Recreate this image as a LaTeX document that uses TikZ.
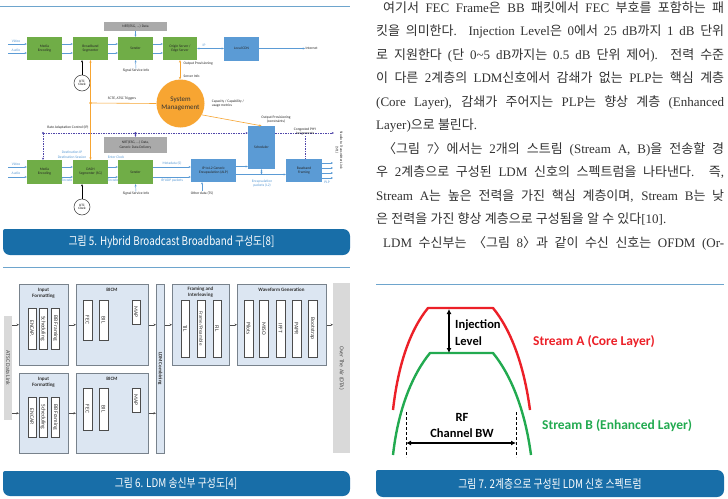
\documentclass[tikz,border=0pt]{standalone}
\usepackage{fontspec}
\setmainfont{Liberation Serif}
\newfontfamily\krfont{Noto Sans CJK KR}
\newfontfamily\lafont{Liberation Serif}
\newfontfamily\capfont[FakeStretch=0.82]{Noto Sans CJK KR}
\newfontfamily\calfont{Carlito}
\usetikzlibrary{arrows.meta}
\chardef\KRclass=11
\XeTeXcharclass"3008=\KRclass
\XeTeXcharclass"3009=\KRclass
\count255="AC00
\loop
  \XeTeXcharclass\count255=\KRclass
  \ifnum\count255<"D7A3 \advance\count255 by 1
\repeat
\XeTeXinterchartoks 0 \KRclass = {\krfont}
\XeTeXinterchartoks 1 \KRclass = {\krfont}
\XeTeXinterchartoks 2 \KRclass = {\krfont}
\XeTeXinterchartoks 3 \KRclass = {\krfont}
\XeTeXinterchartoks 4095 \KRclass = {\krfont}
\XeTeXinterchartoks \KRclass 0 = {\lafont}
\XeTeXinterchartoks \KRclass 1 = {\lafont}
\XeTeXinterchartoks \KRclass 2 = {\lafont}
\XeTeXinterchartoks \KRclass 3 = {\lafont}
\XeTeXinterchartoks \KRclass 4095 = {\lafont}
\definecolor{capblue}{RGB}{24,110,168}
\definecolor{sepblue}{RGB}{110,165,205}
\definecolor{gfill}{RGB}{112,173,71}
\definecolor{bfill}{RGB}{91,155,213}
\definecolor{grfill}{RGB}{170,170,170}
\definecolor{arblue}{RGB}{91,155,213}
\definecolor{smorange}{RGB}{247,165,50}
\definecolor{pcol}{RGB}{80,70,170}
\definecolor{sixfill}{RGB}{220,230,242}
\definecolor{sixborder}{RGB}{120,130,140}
\definecolor{sixgray}{RGB}{217,217,217}
\definecolor{redseven}{RGB}{236,32,40}
\definecolor{greenseven}{RGB}{34,170,80}
\definecolor{bodytext}{RGB}{50,50,50}
\tikzset{
  f5/.style={font=\calfont\fontsize{3.6}{4.1}\selectfont, text=black!85, align=center, inner sep=0.5pt},
  f5b/.style={f5, text=arblue},
  gb/.style={f5, fill=gfill, minimum width=35pt, minimum height=23pt},
  bb/.style={f5, fill=bfill},
  gy/.style={f5, fill=grfill},
  bar/.style={->, >={Stealth[length=2.2pt,width=2pt]}, draw=arblue, line width=0.45pt},
  oline/.style={>={Stealth[length=2.4pt,width=2.2pt]}, draw=smorange, line width=0.6pt},
  pdash/.style={>={Stealth[length=2.2pt,width=2pt]}, draw=pcol, dashed, dash pattern=on 1.5pt off 1pt, line width=0.45pt},
  clk/.style={circle, draw=black!80, fill=white, line width=0.5pt, minimum size=16pt, inner sep=0pt, font=\calfont\fontsize{3.4}{3.8}\selectfont, align=center},
  sixbox/.style={draw=sixborder, fill=sixfill, line width=0.5pt, inner sep=0pt, anchor=north west},
  sixin/.style={draw=black!70, fill=white, line width=0.5pt, inner sep=0pt, rotate=-90, font=\calfont\fontsize{5.6}{6}\selectfont, text=black!80},
  sixt/.style={font=\calfont\bfseries\fontsize{5}{5.6}\selectfont, align=center, text=black!80, inner sep=0pt},
  sixar/.style={->, >={Stealth[length=2.5pt,width=2.4pt]}, draw=black!70, line width=0.5pt},
  body/.style={font={\XeTeXinterchartokenstate=1 \lafont\fontsize{13}{15}\selectfont}, text=bodytext, inner sep=0pt, anchor=base west},
  capt/.style={font={\capfont\fontsize{12}{14}\selectfont}, text=white, inner sep=0pt},
  seven/.style={font=\calfont\bfseries\fontsize{12.5}{14}\selectfont, inner sep=0pt},
}
\begin{document}
\begin{tikzpicture}[x=1pt,y=-1pt]
\useasboundingbox (0,0) rectangle (728,498);
\fill[white] (0,0) rectangle (728,498);

% ---------------- separators and caption bars
\draw[sepblue, line width=0.9pt] (0,6) -- (350,6);
\draw[sepblue, line width=0.9pt] (3,267) -- (350,267);
\draw[sepblue, line width=0.9pt] (376,284) -- (724,284);
\fill[capblue, rounded corners=7pt] (3,229) rectangle (350,255);
\fill[capblue, rounded corners=2pt] (3,229) rectangle (20,240);
\fill[capblue, rounded corners=7pt] (3,471) rectangle (350,496);
\fill[capblue, rounded corners=2pt] (3,471) rectangle (20,482);
\fill[capblue, rounded corners=7pt] (376,470) rectangle (724,497);
\fill[capblue, rounded corners=2pt] (376,470) rectangle (393,481);
\node[capt] (capfive) at (171.5,242) {그림 5. Hybrid Broadcast Broadband 구성도[8]};
\node[capt] (capsix) at (176,483.5) {그림 6. LDM 송신부 구성도[4]};
\node[capt] (capseven) at (550,483.5) {그림 7. 2계층으로 구성된 LDM 신호 스펙트럼};

% ---------------- Figure 5
\node[gy, minimum width=63pt, minimum height=9pt] (nrt1) at (135.5,26.5) {NRT(ESG, ...) Data};
\node[gb] (me1) at (44.5,48.5) {Media\\Encoding};
\node[gb] (bs1) at (90.5,48.5) {Broadband\\Segmenter};
\node[gb] (sd1) at (135.5,48.5) {Sender};
\node[gb, minimum width=34pt] (os1) at (180,48.5) {Origin Server /\\Edge Server};
\node[bb, minimum width=35pt, minimum height=24pt] (cdn) at (241.5,48.5) {Local CDN};
\node[f5, anchor=west] (inet) at (305,48.5) {Internet};
\node[f5b] (vid1) at (16,41) {Video};
\node[f5b] (aud1) at (16,50) {Audio};
\coordinate (vin1) at (8,44);
\coordinate (ain1) at (8,53);
\draw[bar] (vin1) -- (vin1 -| me1.west);
\draw[bar] (ain1) -- (ain1 -| me1.west);
\draw[bar] ([yshift=4.5pt]me1.east) -- ([yshift=4.5pt]bs1.west);
\draw[bar] ([yshift=-4.5pt]me1.east) -- ([yshift=-4.5pt]bs1.west);
\draw[bar] ([yshift=4.5pt]bs1.east) -- ([yshift=4.5pt]sd1.west);
\draw[bar] ([yshift=-4.5pt]bs1.east) -- ([yshift=-4.5pt]sd1.west);
\draw[bar] ([yshift=4.5pt]sd1.east) -- ([yshift=4.5pt]os1.west);
\draw[bar] ([yshift=-4.5pt]sd1.east) -- ([yshift=-4.5pt]os1.west);
\draw[bar, <->] (os1.east) -- (cdn.west);
\node[f5b] (iplab) at (204,45.5) {IP};
\draw[bar] (cdn.east) -- (inet.west);
\draw[bar] (nrt1.south) -- (sd1.north);
\node[f5] (ssi1) at (136,71) {Signal Service Info};
\draw[bar] (ssi1.north) -- (sd1.south);
\node[clk] (utc1) at (82,83) {UTC\\Clock};
\draw[bar, draw=black] (utc1.north) -- (utc1.north |- bs1.south);

\node[circle, fill=smorange, minimum size=48pt, inner sep=0pt, align=center,
      font=\calfont\fontsize{7}{8}\selectfont, text=black!80] (sm) at (180.5,103.5) {System\\Management};
\coordinate (trig) at (90.5,103);
\node[f5] (trlab) at (122,99) {SCTE, ATSC Triggers};
\node[f5, anchor=west] (oplab) at (183,64) {Output Provisioning};
\node[f5, anchor=west] (silab) at (183,76) {Server Info};
\node[f5, align=left] (caplab) at (228,104) {Capacity / Capability /\\usage metrics};
\node[f5] (opc) at (276,119.5) {Output Provisioning\\(constraints)};

% lower row
\node[gy, minimum width=63pt, minimum height=16pt] (nrt2) at (135.5,145) {NRT(ESG, ...) Data,\\Generic Data Delivery};
\node[gb, minimum height=24pt] (me2) at (44.5,172) {Media\\Encoding};
\node[gb, minimum height=24pt] (as2) at (90.5,172) {DASH\\Segmenter (SG)};
\node[gb, minimum height=24pt] (sd2) at (135.5,172) {Sender};
\node[bb, minimum width=45pt, minimum height=23pt] (alp) at (213.5,170.5) {IP to L2 Generic\\Encapsulation (ALP)};
\node[bb, minimum width=27pt, minimum height=43pt] (sched) at (261.5,147.5) {Scheduler};
\node[bb, minimum width=36pt, minimum height=23pt] (bbf) at (304,170.5) {Baseband\\Framing};

\draw[oline, ->] (trig) -- (as2.north);
\draw[oline, ->] (trig) -- (bs1.south);
\draw[oline] (sm.west) -- (trig);
\fill[smorange] (trig) circle (1.3);
\draw[oline, <->] (os1.south) -- (os1.south |- sm.north);
\draw[oline, ->] (sm.-28) -- (sched.north);

\node[f5b] (vid2) at (16,164) {Video};
\node[f5b] (aud2) at (16,173.5) {Audio};
\coordinate (vin2) at (8,167);
\coordinate (ain2) at (8,177);
\draw[bar] (vin2) -- (vin2 -| me2.west);
\draw[bar] (ain2) -- (ain2 -| me2.west);
\draw[bar] ([yshift=5pt]me2.east) -- ([yshift=5pt]as2.west);
\draw[bar] ([yshift=-5pt]me2.east) -- ([yshift=-5pt]as2.west);
\draw[bar] ([yshift=5pt]as2.east) -- ([yshift=5pt]sd2.west);
\draw[bar] ([yshift=-5pt]as2.east) -- ([yshift=-5pt]sd2.west);
\draw[bar] ([yshift=5pt]sd2.east) -- ([yshift=5pt]sd2.east -| alp.west);
\draw[bar] ([yshift=-5pt]sd2.east) -- ([yshift=-5pt]sd2.east -| alp.west);
\node[f5b] (dip) at (72,152.5) {Destination IP};
\node[f5b] (dses) at (72,157.5) {Destination Session};
\node[f5b] (enc1) at (67,180.5) {Encode};
\node[f5b] (eclk) at (116,157.5) {Enter Clock};
\node[f5b] (enc2) at (113,180.5) {Encode};
\node[f5b] (mdat) at (172,163) {Metadata (S)};
\node[f5b] (ipudp) at (172,181) {IP/UDP packets};
\node[clk] (utc2) at (82,207) {UTC\\Clock};
\draw[bar, draw=black] (utc2.north) -- (utc2.north |- as2.south);
\node[f5] (ssi2) at (136,194) {Signal Service Info};
\draw[bar] (ssi2.north) -- (sd2.south);

\draw[bar] ([yshift=4pt]alp.east) -- ([yshift=4pt]alp.east -| sched.west);
\draw[bar] ([yshift=-4pt]alp.east) -- ([yshift=-4pt]bbf.west);
\coordinate (sj) at (261.5,174.5);
\draw[bar, <->] (sched.south) -- (sj);
\node[f5b] (encp) at (262,183.5) {Encapsulation\\packets (L2)};
\node[f5] (oth) at (202,193) {Other data (TS)};
\draw[bar] (oth.north) -- (oth.north |- alp.south);
\coordinate (po1) at (333,163);
\coordinate (po2) at (333,168);
\coordinate (po3) at (333,173);
\coordinate (po4) at (333,178);
\draw[bar] (bbf.east |- po1) -- (po1);
\draw[bar] (bbf.east |- po2) -- (po2);
\draw[bar] (bbf.east |- po3) -- (po3);
\draw[bar] (bbf.east |- po4) -- (po4);
\node[f5b] (plp) at (327,182) {PLP};
\node[f5, rotate=-90] (stl) at (339,150) {Studio to Transmitter Link\\(STL)};

\node[f5] (ralab) at (68,127) {Rate Adaptation Control (IP)};
\coordinate (ra0) at (43,133);
\coordinate (ra1) at (135.5,133);
\coordinate (ra2) at (334,133);
\draw[pdash, ->] (ra0) -- (ra0 -| sched.west);
\draw[pdash, ->] (ra0) -- (ra0 |- me2.north);
\draw[pdash, ->] (ra1) -- (nrt2.north);
\draw[pdash, ->] (ra0 -| sched.east) -- (ra2);
\fill[pcol] (ra0) circle (1.1);
\fill[pcol] (ra1) circle (1.1);
\node[f5] (cpa) at (305,131.5) {Congested PHY\\Assignments};
\draw[pdash] (cpa.south) -- (cpa.south |- bbf.north);

% ---------------- Figure 6
\node[fill=sixgray, anchor=north west, minimum width=8pt, minimum height=104pt, inner sep=0pt] (dlb) at (4,316) {};
\node[rotate=-90, font=\calfont\fontsize{5.8}{6}\selectfont, text=black!70] (dlbt) at (dlb.center) {ATSC Data Link};
\node[fill=sixgray, anchor=north west, minimum width=17pt, minimum height=170pt, inner sep=0pt] (ota) at (333,283) {};
\node[rotate=-90, font=\calfont\fontsize{5.8}{6}\selectfont, text=black!70] (otat) at (ota.center) {Over The Air (OTA)};

\node[sixbox, minimum width=49pt, minimum height=81pt] (if1) at (19,284) {};
\node[sixbox, minimum width=72pt, minimum height=81pt] (bicm1) at (76,284) {};
\node[sixbox, minimum width=49pt, minimum height=80pt] (if2) at (19,373) {};
\node[sixbox, minimum width=72pt, minimum height=80pt] (bicm2) at (76,373) {};
\node[sixbox, minimum width=8pt, minimum height=169pt] (ldm) at (156,284) {};
\node[sixbox, minimum width=57pt, minimum height=81pt] (fr) at (172,284) {};
\node[sixbox, minimum width=89pt, minimum height=81pt] (wf) at (237,284) {};

\node[sixt] (if1t) at (43.5,293) {Input\\Formatting};
\node[sixt] (bicm1t) at (112,290) {BICM};
\node[sixt] (if2t) at (43.5,382) {Input\\Formatting};
\node[sixt] (bicm2t) at (112,379) {BICM};
\node[sixt, rotate=-90] (ldmt) at (ldm.center) {LDM Combining};
\node[sixt] (frt) at (200.5,292) {Framing and\\Interleaving};
\node[sixt] (wft) at (281.5,290) {Waveform Generation};

\node[sixin, minimum width=41pt, minimum height=8pt] (enc1b) at (32,328.5) {ENCAP.};
\node[sixin, minimum width=41pt, minimum height=8pt] (sch1b) at (43,328.5) {Scheduling};
\node[sixin, minimum width=41pt, minimum height=8pt] (bbf1b) at (55.5,328.5) {BB Framing};
\node[sixin, minimum width=40pt, minimum height=9pt] (fec1b) at (87.5,320) {FEC};
\node[sixin, minimum width=40pt, minimum height=9pt] (bil1b) at (103.5,320) {BIL};
\node[sixin, minimum width=24pt, minimum height=8pt] (map1b) at (136,312) {MAP};

\node[sixin, minimum width=40pt, minimum height=8pt] (enc2b) at (32,417) {ENCAP.};
\node[sixin, minimum width=40pt, minimum height=8pt] (sch2b) at (43,417) {Scheduling};
\node[sixin, minimum width=40pt, minimum height=8pt] (bbf2b) at (55.5,417) {BB Framing};
\node[sixin, minimum width=42pt, minimum height=9pt] (fec2b) at (87.5,409) {FEC};
\node[sixin, minimum width=42pt, minimum height=9pt] (bil2b) at (103.5,409) {BIL};
\node[sixin, minimum width=24pt, minimum height=8pt] (map2b) at (136,400) {MAP};

\node[sixin, minimum width=57pt, minimum height=8pt] (tilb) at (185,328.5) {TIL};
\node[sixin, minimum width=57pt, minimum height=8pt, font=\calfont\fontsize{5}{6}\selectfont] (fpb) at (201,328.5) {Frame/Preamble};
\node[sixin, minimum width=57pt, minimum height=8pt] (filb) at (217,328.5) {FIL};

\node[sixin, minimum width=57pt, minimum height=9pt] (pilb) at (248.5,328.5) {Pilots};
\node[sixin, minimum width=57pt, minimum height=9pt] (misb) at (264,328.5) {MISO};
\node[sixin, minimum width=57pt, minimum height=9pt] (iffb) at (280.5,328.5) {IFFT};
\node[sixin, minimum width=57pt, minimum height=9pt] (papb) at (296.5,328.5) {PAPR};
\node[sixin, minimum width=57pt, minimum height=9pt] (bootb) at (312.5,328.5) {Bootstrap};

\draw[sixar] (dlb.east |- if1.west) -- (if1.west);
\draw[sixar] (dlb.east |- if2.west) -- (if2.west);
\draw[sixar] (if1.east) -- (bicm1.west);
\draw[sixar] (if2.east) -- (bicm2.west);
\draw[sixar] (bicm1.east) -- (bicm1.east -| ldm.west);
\draw[sixar] (bicm2.east) -- (bicm2.east -| ldm.west);
\draw[sixar] (ldm.east |- fr.west) -- (fr.west);
\draw[sixar] (fr.east) -- (wf.west);
\draw[sixar] (wf.east) -- (wf.east -| ota.west);

% ---------------- Figure 7
\draw[redseven, line width=2.4pt, line join=round] (393,410) .. controls (398,365) and (410,330) .. (428,308) -- (493,308) .. controls (511,330) and (524,365) .. (530,410);
\draw[greenseven, line width=2.4pt, line join=round] (393,455) .. controls (398,410) and (412,375) .. (430,353) -- (493,353) .. controls (511,375) and (525,410) .. (531,455);
\coordinate (dla) at (406,412);
\coordinate (dlc) at (406,457);
\coordinate (dra) at (516,412);
\coordinate (drc) at (516,457);
\draw[black, dashed, dash pattern=on 3pt off 2pt, line width=0.9pt] (dla) -- (dlc);
\draw[black, dashed, dash pattern=on 3pt off 2pt, line width=0.9pt] (dra) -- (drc);
\coordinate (bwl) at (406,443);
\coordinate (bwr) at (516,443);
\draw[<->, >={Latex[length=5pt,width=5pt]}, line width=1.3pt] (bwl) -- (bwr);
\coordinate (ilt) at (449,309);
\coordinate (ilb) at (449,353);
\draw[<->, >={Latex[length=5pt,width=5pt]}, line width=1.3pt] (ilt) -- (ilb);
\node[seven, anchor=west] (injt) at (455,325) {Injection};
\node[seven, anchor=west] (levt) at (455,341) {Level};
\node[seven] (rft) at (462,417) {RF};
\node[seven] (cbw) at (462,433) {Channel BW};
\node[seven, text=redseven, anchor=west, font=\calfont\bfseries\fontsize{13.5}{15}\selectfont] (sa) at (533,342) {Stream A (Core Layer)};
\node[seven, text=greenseven, anchor=west, font=\calfont\bfseries\fontsize{13.5}{15}\selectfont] (sb) at (542,426) {Stream B (Enhanced Layer)};

% ---------------- body text
\node[body] (l1) at (376,12) {\makebox[348pt][s]{\kern7pt\krfont 여기서 FEC Frame은 BB 패킷에서 FEC 부호를 포함하는 패}};
\node[body] (l2) at (376,35.5) {\makebox[348pt][s]{\krfont 킷을 의미한다. Injection Level은 0에서 25 dB까지 1 dB 단위}};
\node[body] (l3) at (376,59) {\makebox[348pt][s]{\krfont 로 지원한다 (단 0\textasciitilde 5 dB까지는 0.5 dB 단위 제어). 전력 수준}};
\node[body] (l4) at (376,82.5) {\makebox[348pt][s]{\krfont 이 다른 2계층의 LDM신호에서 감쇄가 없는 PLP는 핵심 계층}};
\node[body] (l5) at (376,106) {\makebox[348pt][s]{(Core Layer), 감쇄가 주어지는 PLP는 향상 계층 (Enhanced}};
\node[body] (l6) at (376,129.5) {Layer)으로 불린다.};
\node[body] (l7) at (376,153) {\makebox[348pt][s]{\kern7pt\krfont 〈그림 7〉에서는 2개의 스트림 (Stream A, B)을 전송할 경}};
\node[body] (l8) at (376,176.5) {\makebox[348pt][s]{\krfont 우 2계층으로 구성된 LDM 신호의 스펙트럼을 나타낸다. 즉,}};
\node[body] (l9) at (376,200) {\makebox[348pt][s]{Stream A는 높은 전력을 가진 핵심 계층이며, Stream B는 낮}};
\node[body] (l10) at (376,223.5) {\krfont 은 전력을 가진 향상 계층으로 구성됨을 알 수 있다[10].};
\node[body] (l11) at (376,247) {\makebox[348pt][s]{\kern7pt LDM 수신부는 〈그림 8〉과 같이 수신 신호는 OFDM (Or-}};
\end{tikzpicture}
\end{document}
